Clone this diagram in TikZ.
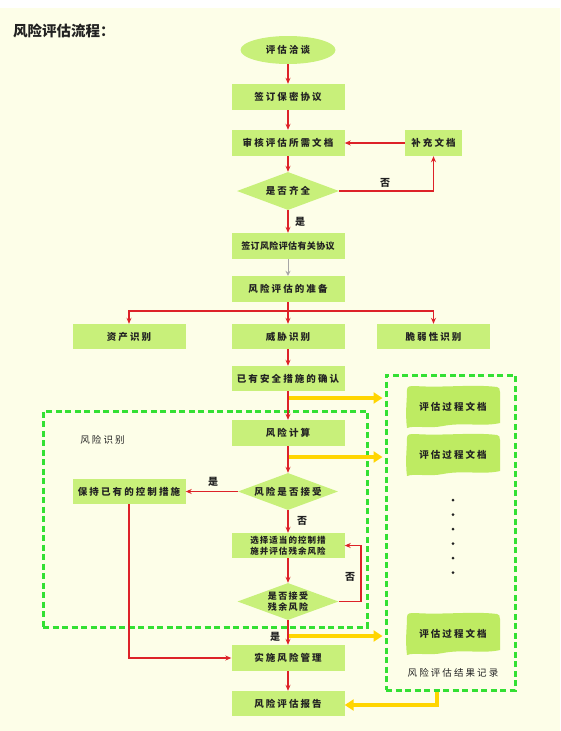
\documentclass[tikz,border=0pt]{standalone}
\usepackage{fontspec}
\setmainfont{Noto Sans CJK SC}
\newfontfamily\bxfont{Noto Sans CJK SC}[LetterSpace=22]
\newfontfamily\smfont{Noto Sans CJK SC}[LetterSpace=12]
\newfontfamily\dmfont{Noto Sans CJK SC}[LetterSpace=15]
\newfontfamily\tightfont{Noto Sans CJK SC}[LetterSpace=4]
\usetikzlibrary{shapes.geometric,arrows.meta}
\definecolor{bgc}{HTML}{FDFEE8}
\definecolor{boxg}{HTML}{C8F07A}
\definecolor{docg}{HTML}{BEEB62}
\definecolor{redc}{HTML}{DD2228}
\definecolor{dashg}{HTML}{33E033}
\definecolor{yelc}{HTML}{FFD500}
\definecolor{txt}{HTML}{222222}
\tikzset{
  box/.style={rectangle,fill=boxg,minimum width=113pt,minimum height=26pt,inner sep=0pt,
    font=\bxfont\bfseries\fontsize{9.5}{11}\selectfont,text=txt},
  dia/.style={diamond,fill=boxg,aspect=2.7,inner sep=0pt,minimum width=102pt,minimum height=38pt,
    font=\bxfont\bfseries\fontsize{9.5}{11}\selectfont,text=txt,align=center},
  rline/.style={draw=redc,line width=1.4pt},
  rarrow/.style={rline,-{Stealth[length=6pt,width=5pt]}},
  garrow/.style={draw=black!35,line width=1pt,-{Stealth[open,length=5pt,width=5pt]}},
  yarrow/.style={draw=yelc,line width=4pt,-{Triangle[length=9pt,width=11pt]}},
  dbox/.style={rectangle,draw=dashg,line width=3pt,dash pattern=on 6pt off 3.5pt,inner sep=0pt},
  lbl/.style={font=\bfseries\fontsize{10}{12}\selectfont,text=txt,inner sep=0pt},
  plain/.style={font=\bxfont\fontsize{9.5}{11}\selectfont,text=txt,inner sep=0pt},
  doctext/.style={font=\bxfont\bfseries\fontsize{9.5}{11}\selectfont,text=txt,inner sep=0pt},
  docshape/.pic={
    \fill[docg] (-46,-17) .. controls (-46,-21) and (-43,-21) .. (-38,-21)
      .. controls (-10,-19) and (20,-23) .. (44,-20)
      .. controls (46,-20) and (47,-18) .. (47,-15)
      -- (47,16) .. controls (30,20) and (10,15) .. (-10,19)
      .. controls (-25,22) and (-38,18) .. (-46,21)
      .. controls (-48,5) and (-46,-5) .. cycle;
  }
}
\begin{document}
\begin{tikzpicture}[x=1pt,y=-1pt]
\useasboundingbox (0,0) rectangle (560,731);
\fill[bgc] (0,0) rectangle (560,731);
\fill[white] (0,0) rectangle (560,8);

% title
\node[anchor=west,font=\bfseries\fontsize{14.5}{16}\selectfont,text=txt,inner sep=0pt] (title) at (13,31) {风险评估流程：};

% dashed groups
\node[dbox,minimum width=324pt,minimum height=216pt] (lbox) at (205,519) {};
\node[dbox,minimum width=129pt,minimum height=315pt] (rbox) at (450.5,532.5) {};
\node[plain] (lboxlbl) at (102.5,440) {风险识别};
\node[plain] (rboxlbl) at (453,673) {风险评估结果记录};

% main column
\node[ellipse,fill=boxg,minimum width=95pt,minimum height=28pt,inner sep=0pt,
  font=\bxfont\bfseries\fontsize{9.5}{11}\selectfont,text=txt] (e1) at (288,50) {评估洽谈};
\node[box] (b1) at (288,97) {签订保密协议};
\node[box] (b2) at (288,143) {审核评估所需文档};
\node[box,minimum width=57pt] (bb) at (433.5,143) {补充文档};
\node[dia] (d1) at (288,191) {是否齐全};
\node[box,font=\tightfont\bfseries\fontsize{9}{11}\selectfont] (b3) at (288,246) {签订风险评估有关协议};
\node[box] (b4) at (288,289) {风险评估的准备};
\node[box,minimum height=25pt] (b5) at (129,336.5) {资产识别};
\node[box,minimum height=25pt] (b6) at (288,336.5) {威胁识别};
\node[box,minimum height=25pt] (b7) at (433.5,336.5) {脆弱性识别};
\node[box,minimum height=25pt] (b8) at (288,378.5) {已有安全措施的确认};
\node[box] (b9) at (288,433) {风险计算};
\node[dia,minimum width=100pt,minimum height=37pt] (d2) at (288,491.5) {风险是否接受};
\node[box,minimum height=25pt] (b10) at (129,491.5) {保持已有的控制措施};
\node[box,minimum height=25pt,align=center,font=\smfont\bfseries\fontsize{8.5}{11}\selectfont] (b11) at (288,545.5) {选择适当的控制措\\施并评估残余风险};
\node[dia,minimum width=101pt,minimum height=37pt,font=\dmfont\bfseries\fontsize{9}{11}\selectfont] (d3) at (288,601.5) {是否接受\\残余风险};
\node[box] (b12) at (288,658) {实施风险管理};
\node[box,minimum height=25pt] (b13) at (288,703.5) {风险评估报告};

% documents
\pic at (453,407) {docshape};
\node[doctext] (doc1) at (453,407) {评估过程文档};
\pic at (453,455) {docshape};
\node[doctext] (doc2) at (453,455) {评估过程文档};
\pic at (453,634) {docshape};
\node[doctext] (doc3) at (453,634) {评估过程文档};
\foreach \yy in {500,514.5,529,543.5,558,572.5}
  \fill[txt] (453,\yy) circle (1.5);

% red connectors
\draw[rarrow] (e1) -- (b1);
\draw[rarrow] (b1) -- (b2);
\draw[rarrow] (b2) -- (d1);
\draw[rarrow] (d1.east) -| (bb.south);
\node[lbl] (no1) at (385,183) {否};
\draw[rarrow] (bb.west) -- (b2.east);
\draw[rarrow] (d1.south) -- (b3.north);
\node[lbl] (yes1) at (300,222) {是};
\draw[garrow] (b3) -- (b4);
\coordinate (br) at (288,311);
\draw[rline] (b4.south) -- (br);
\draw[rarrow] (br) -| (b5.north);
\draw[rarrow] (br) -| (b7.north);
\draw[rarrow] (br) -- (b6.north);
\draw[rarrow] (b6) -- (b8);
\draw[rarrow] (b8) -- (b9);
\draw[rarrow] (b9) -- (d2);
\draw[rarrow] (d2.west) -- (b10.east);
\node[lbl] (yes2) at (213,482) {是};
\draw[rarrow] (d2.south) -- (b11.north);
\node[lbl] (no2) at (302,521) {否};
\draw[rarrow] (b11) -- (d3);
\coordinate (lp) at (361,601.5);
\draw[rarrow] (d3.east) -- (lp) |- (b11.east);
\node[lbl] (no3) at (350,577) {否};
\draw[rarrow] (d3.south) -- (b12.north);
\node[lbl] (yes3) at (275,637) {是};
\draw[rarrow] (b10.south) |- (b12.west);
\draw[rarrow] (b12) -- (b13);

% yellow arrows
\coordinate (ya) at (289,398);
\coordinate (yb) at (289,457);
\coordinate (yc) at (289,636);
\draw[yarrow,shorten >=2pt] (ya) -- (ya -| rbox.west);
\draw[yarrow,shorten >=2pt] (yb) -- (yb -| rbox.west);
\draw[yarrow,shorten >=2pt] (yc) -- (yc -| rbox.west);
\coordinate (yr) at (437,705);
\draw[yarrow,line join=miter] (rbox.south -| yr) -- (yr) -- (yr -| b13.east);
\end{tikzpicture}
\end{document}
